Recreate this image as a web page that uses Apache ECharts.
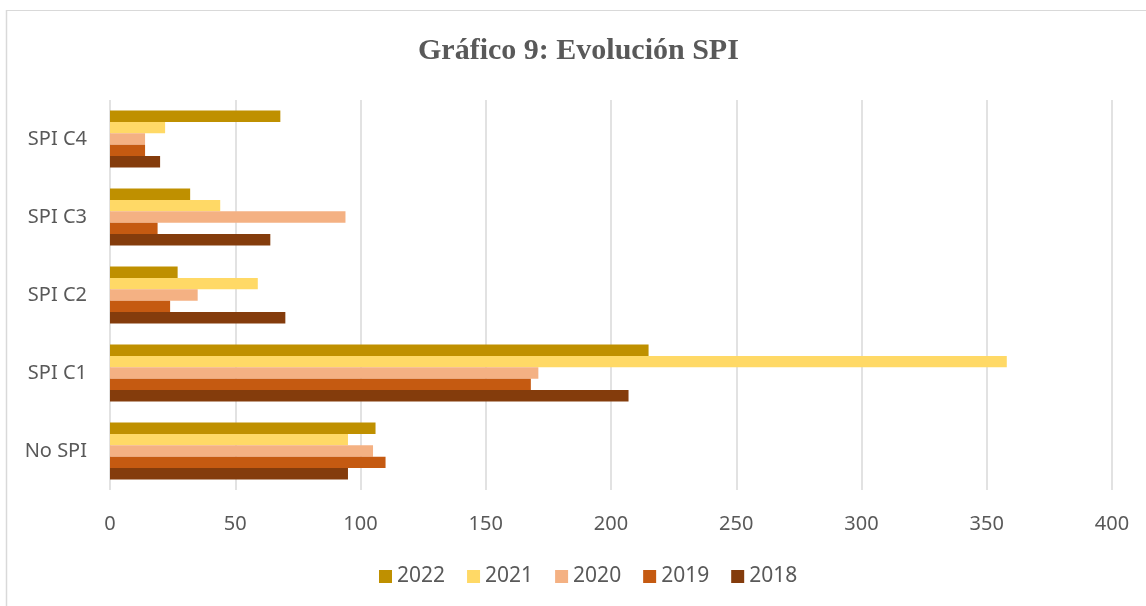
<!DOCTYPE html>
<html>
<head>
<meta charset="utf-8">
<title>Gráfico 9: Evolución SPI</title>
<script src="https://cdn.jsdelivr.net/npm/echarts@6/dist/echarts.min.js"></script>
<style>
    html, body { margin: 0; padding: 0; background: #fff; }
    #chart { width: 1146px; height: 606px; }
</style>
</head>
<body>
<div id="chart"></div>
<script>
// categorías (de abajo hacia arriba)
const categories = ['No SPI', 'SPI C1', 'SPI C2', 'SPI C3', 'SPI C4'];
// años, en el orden de la leyenda (y de arriba hacia abajo en cada grupo)
const years = ['2022', '2021', '2020', '2019', '2018'];
const values2022 = [106, 215, 27, 32, 68];
const values2021 = [95, 358, 59, 44, 22];
const values2020 = [105, 171, 35, 94, 14];
const values2019 = [110, 168, 24, 19, 14];
const values2018 = [95, 207, 70, 64, 20];
const xTicks = [0, 50, 100, 150, 200, 250, 300, 350, 400];

const colors = {
    '2022': '#BF9000',
    '2021': '#FFD966',
    '2020': '#F4B183',
    '2019': '#C55A11',
    '2018': '#843C0C'
};
const seriesValues = [values2022, values2021, values2020, values2019, values2018];

let myChart = echarts.init(document.getElementById('chart'));
myChart.setOption({
    animation: false,
    title: {
        text: 'Gráfico 9: Evolución SPI',
        left: 413,
        top: 31,
        textStyle: {
            fontFamily: 'Liberation Serif',
            fontWeight: 'bold',
            fontSize: 30,
            color: '#595959'
        }
    },
    graphic: [
        {
            type: 'line',
            shape: { x1: 6, y1: 10.5, x2: 1146, y2: 10.5 },
            style: { stroke: '#d9d9d9', lineWidth: 1 }
        },
        {
            type: 'line',
            shape: { x1: 6.5, y1: 10, x2: 6.5, y2: 606 },
            style: { stroke: '#d9d9d9', lineWidth: 1.5 }
        }
    ],
    legend: {
        data: years,
        bottom: 14,
        left: 374,
        itemWidth: 13,
        itemHeight: 13,
        itemGap: 22,
        icon: 'rect',
        textStyle: {
            fontFamily: 'Noto Sans',
            fontSize: 21,
            color: '#595959'
        }
    },
    grid: {
        left: 110,
        right: 34,
        top: 100,
        bottom: 116
    },
    xAxis: {
        type: 'value',
        min: 0,
        max: 400,
        interval: 50,
        axisLine: { show: false },
        axisTick: { show: false },
        axisLabel: {
            margin: 24,
            fontFamily: 'Noto Sans',
            fontSize: 20,
            color: '#595959',
            formatter: (v) => xTicks.indexOf(v) >= 0 ? String(v) : ''
        },
        splitLine: {
            lineStyle: { color: '#d9d9d9', width: 1.5 }
        }
    },
    yAxis: {
        type: 'category',
        data: categories,
        axisLine: { show: false },
        axisTick: { show: false },
        axisLabel: {
            margin: 23,
            fontFamily: 'Noto Sans',
            fontSize: 20,
            color: '#595959'
        }
    },
    series: years.map((y, i) => ({
        name: y,
        type: 'bar',
        data: seriesValues[i],
        barGap: '0%',
        barCategoryGap: '27%',
        itemStyle: { color: colors[y] }
    }))
});
</script>
</body>
</html>
